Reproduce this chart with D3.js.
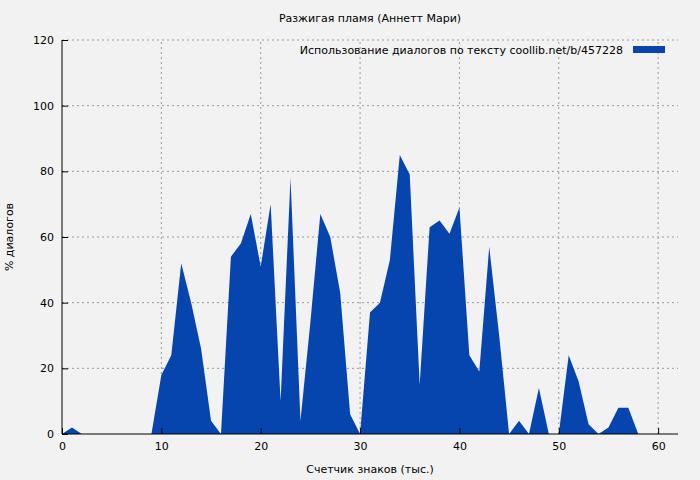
<!DOCTYPE html>
<html><head><meta charset="utf-8">
<script src="https://cdn.jsdelivr.net/npm/d3@7"></script>
<style>body{margin:0;background:#f2f2f2}text{font-family:"DejaVu Sans",sans-serif;font-size:11px}</style>
</head><body><div id="chart"></div>
<script>
const xs = [0,1,2,3,4,5,6,7,8,9,10,11,12,13,14,15,16,17,18,19,20,21,22,23,24,25,26,27,28,29,30,31,32,33,34,35,36,37,38,39,40,41,42,43,44,45,46,47,48,49,50,51,52,53,54,55,56,57,58];
const ys = [0,2,0,0,0,0,0,0,0,0,18,24,52,40,26,4,0,54,58,67,51,70,10,78,4,34,67,60,43,6,0,37,40,53,85,79,15,63,65,61,69,24,19,57,30,0,4,0,14,0,0,24,16,3,0,2,8,8,0];
const xTicks = [0,10,20,30,40,50,60];
const yTicks = [0,20,40,60,80,100,120];
const title = "Разжигая пламя (Аннетт Мари)";
const legendText = "Использование диалогов по тексту  coollib.net/b/457228";

const W = 700, H = 480, m = {l:62, r:22, t:40, b:46};
const svg = d3.select("#chart").append("svg").attr("width", W).attr("height", H);
const x = d3.scaleLinear().domain([0,62]).range([m.l, W - m.r]);
const y = d3.scaleLinear().domain([0,120]).range([H - m.b, m.t]);

// grid
svg.selectAll(".gx").data(xTicks.filter(d => d > 0)).enter().append("line")
  .attr("x1", d => x(d)).attr("x2", d => x(d)).attr("y1", y(0)).attr("y2", y(120))
  .attr("stroke", "#999").attr("stroke-dasharray", "2,3");
svg.selectAll(".gy").data(yTicks.filter(d => d > 0)).enter().append("line")
  .attr("x1", x(0)).attr("x2", x(62)).attr("y1", d => y(d)).attr("y2", d => y(d))
  .attr("stroke", "#999").attr("stroke-dasharray", "2,3");

const data = xs.map((d, i) => [d, ys[i]]);
svg.append("path").datum(data)
  .attr("d", d3.area().x(d => x(d[0])).y0(y(0)).y1(d => y(d[1])))
  .attr("fill", "#0645ad");

svg.append("g").attr("transform", `translate(0,${y(0)})`)
  .call(d3.axisBottom(x).tickValues(xTicks).tickSize(-6).tickPadding(8))
  .call(g => g.select(".domain").attr("d", `M${x(0)},0H${x(62)}`));
svg.append("g").attr("transform", `translate(${x(0)},0)`)
  .call(d3.axisLeft(y).tickValues(yTicks).tickSize(-6).tickPadding(8))
  .call(g => g.select(".domain").attr("d", `M0,${y(0)}V${y(120)}`));
svg.selectAll(".tick text").attr("font-size", 11).attr("font-family", "DejaVu Sans");
svg.selectAll(".tick line").attr("stroke", "#000");

svg.append("text").attr("x", W/2 + 20).attr("y", 22).attr("text-anchor", "middle").text(title);
svg.append("text").attr("x", W/2 + 20).attr("y", 473).attr("text-anchor", "middle").text("Счетчик знаков (тыс.)");
svg.append("text").attr("transform", `translate(13,${(m.t + H - m.b)/2}) rotate(-90)`)
  .attr("text-anchor", "middle").text("% диалогов");

svg.append("text").attr("x", 623).attr("y", 54).attr("text-anchor", "end").text(legendText);
svg.append("rect").attr("x", 633).attr("y", 46).attr("width", 32).attr("height", 7).attr("fill", "#0645ad");
</script></body></html>
